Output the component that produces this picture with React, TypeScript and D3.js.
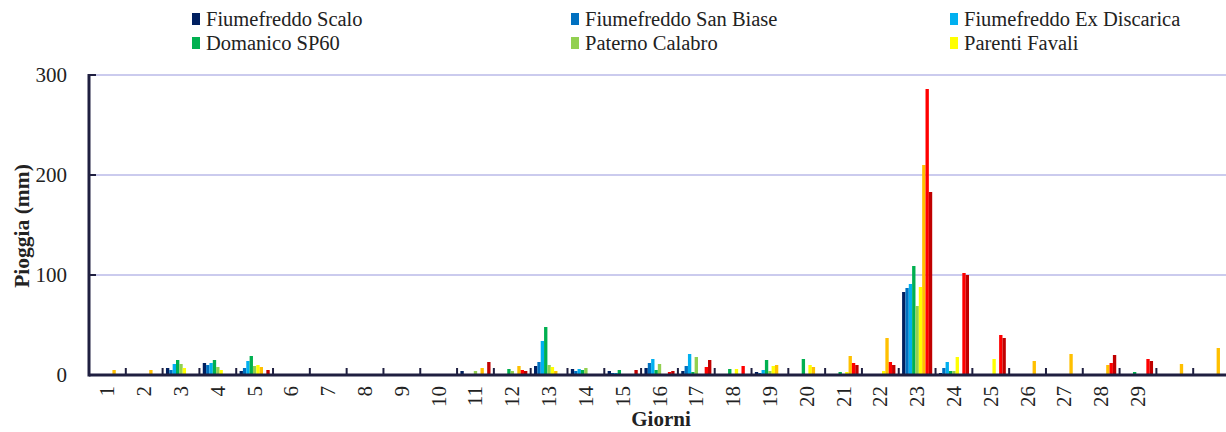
import { useEffect, useRef } from "react";
import * as d3 from "d3";

// giorni del mese (31), etichette mostrate solo fino al 29
const days = [
  "1", "2", "3", "4", "5", "6", "7", "8", "9", "10", "11", "12", "13", "14", "15", "16",
  "17", "18", "19", "20", "21", "22", "23", "24", "25", "26", "27", "28", "29", "30", "31",
];
const dayLabels = [
  "1", "2", "3", "4", "5", "6", "7", "8", "9", "10", "11", "12", "13", "14", "15", "16",
  "17", "18", "19", "20", "21", "22", "23", "24", "25", "26", "27", "28", "29", "", "",
];

const seriesNames = [
  "Fiumefreddo Scalo",
  "Fiumefreddo San Biase",
  "Fiumefreddo Ex Discarica",
  "Domanico SP60",
  "Paterno Calabro",
  "Parenti Favali",
  "Serie 7",
  "Serie 8",
  "Serie 9",
];
const seriesColors = [
  "#002060", "#0070C0", "#00B0F0", "#00B050", "#92D050", "#FFFF00", "#FFC000", "#FF0000", "#C00000",
];

// pioggia giornaliera (mm)
const fiumefreddoScalo = [0, 0, 7, 12, 4, 0, 0, 0, 0, 0, 4, 0, 9, 6, 4, 7, 4, 0, 3, 0, 0, 0, 83, 2, 0, 0, 0, 0, 0, 0, 0];
const fiumefreddoSanBiase = [0, 0, 5, 10, 7, 0, 0, 0, 0, 0, 0, 0, 13, 4, 2, 12, 9, 1, 2, 0, 0, 0, 87, 7, 0, 0, 0, 0, 0, 0, 0];
const fiumefreddoExDiscarica = [0, 0, 11, 12, 14, 0, 0, 0, 0, 0, 0, 0, 34, 6, 2, 16, 21, 0, 5, 0, 0, 0, 91, 13, 0, 0, 0, 0, 0, 0, 0];
const domanicoSP60 = [0, 0, 15, 15, 19, 0, 0, 0, 0, 0, 1, 6, 48, 5, 5, 5, 3, 6, 15, 16, 3, 0, 109, 4, 0, 0, 0, 0, 3, 0, 0];
const paternoCalabro = [0, 0, 11, 8, 9, 0, 0, 0, 0, 0, 4, 4, 10, 7, 0, 11, 18, 0, 4, 0, 0, 0, 69, 4, 0, 0, 0, 0, 1, 0, 0];
const parentiFavali = [0, 0, 7, 5, 10, 0, 0, 0, 0, 0, 1, 0, 8, 0, 0, 0, 0, 6, 9, 10, 3, 4, 88, 18, 16, 0, 0, 0, 1, 0, 0];
const serie7 = [5, 5, 0, 1, 8, 0, 0, 0, 0, 0, 7, 9, 4, 1, 0, 0, 1, 0, 10, 8, 19, 37, 210, 0, 0, 14, 21, 10, 1, 11, 27];
const serie8 = [0, 0, 0, 0, 0, 0, 0, 0, 0, 0, 0, 5, 0, 0, 0, 3, 8, 9, 0, 0, 12, 13, 286, 102, 40, 0, 0, 12, 16, 0, 0];
const serie9 = [0, 0, 0, 0, 5, 0, 0, 0, 0, 0, 13, 4, 0, 0, 5, 4, 15, 0, 0, 0, 10, 10, 183, 100, 37, 0, 0, 20, 14, 0, 0];

const seriesValues = [
  fiumefreddoScalo,
  fiumefreddoSanBiase,
  fiumefreddoExDiscarica,
  domanicoSP60,
  paternoCalabro,
  parentiFavali,
  serie7,
  serie8,
  serie9,
];

const yTicks = [0, 100, 200, 300];
const legendCount = 6; // la legenda originale mostra solo le prime sei serie

export default function App() {
  const svgRef = useRef<SVGSVGElement>(null);

  useEffect(() => {
    if (!svgRef.current) return;
    const W = 1226;
    const H = 432;
    const axisColor = "#1f1f40";
    const font = "'Liberation Serif', 'Times New Roman', serif";

    const svg = d3.select(svgRef.current);
    svg.selectAll("*").remove();
    svg.attr("width", W).attr("height", H).attr("viewBox", `0 0 ${W} ${H}`);

    const left = 89;
    const right = 1230; // l'ultima categoria esce dal bordo
    const top = 75;
    const bottom = 375;

    const x = d3.scaleBand<string>().domain(days).range([left, right]).padding(0);
    const xInner = d3
      .scaleBand<string>()
      .domain(seriesNames)
      .range([0, x.bandwidth()])
      .paddingInner(0)
      .paddingOuter(1);
    const y = d3.scaleLinear().domain([0, 300]).range([bottom, top]);

    // griglia orizzontale
    svg
      .append("g")
      .selectAll("line")
      .data(yTicks.filter((t) => t > 0))
      .enter()
      .append("line")
      .attr("x1", left)
      .attr("x2", W)
      .attr("y1", (d) => y(d))
      .attr("y2", (d) => y(d))
      .attr("stroke", "#cbcbee")
      .attr("stroke-width", 2);

    // barre
    seriesValues.forEach((vals, si) => {
      svg
        .append("g")
        .selectAll("rect")
        .data(vals.map((v, i) => ({ day: days[i], v })).filter((d) => d.v > 0))
        .enter()
        .append("rect")
        .attr("x", (d) => (x(d.day) as number) + (xInner(seriesNames[si]) as number))
        .attr("width", xInner.bandwidth())
        .attr("y", (d) => y(d.v))
        .attr("height", (d) => y(0) - y(d.v))
        .attr("fill", seriesColors[si]);
    });

    // asse x: linea e tacche interne ai confini delle categorie
    const axes = svg.append("g");
    axes
      .selectAll(".xtick")
      .data(days.slice(1))
      .enter()
      .append("line")
      .attr("x1", (d) => x(d) as number)
      .attr("x2", (d) => x(d) as number)
      .attr("y1", bottom)
      .attr("y2", bottom - 7)
      .attr("stroke", axisColor)
      .attr("stroke-width", 2);
    axes
      .append("line")
      .attr("x1", left)
      .attr("x2", W)
      .attr("y1", bottom)
      .attr("y2", bottom)
      .attr("stroke", axisColor)
      .attr("stroke-width", 3);

    // asse y
    axes
      .selectAll(".ytick")
      .data(yTicks.filter((t) => t > 0))
      .enter()
      .append("line")
      .attr("x1", left)
      .attr("x2", left + 7)
      .attr("y1", (d) => y(d))
      .attr("y2", (d) => y(d))
      .attr("stroke", axisColor)
      .attr("stroke-width", 2);
    axes
      .append("line")
      .attr("x1", left)
      .attr("x2", left)
      .attr("y1", top - 1)
      .attr("y2", bottom + 1.5)
      .attr("stroke", axisColor)
      .attr("stroke-width", 3);

    svg
      .append("g")
      .selectAll("text")
      .data(yTicks)
      .enter()
      .append("text")
      .attr("x", 67)
      .attr("y", (d) => y(d))
      .attr("dy", "0.34em")
      .attr("text-anchor", "end")
      .attr("font-family", font)
      .attr("font-size", 21)
      .attr("fill", "#222")
      .text((d) => d);

    // etichette giorni ruotate
    svg
      .append("g")
      .selectAll("text")
      .data(days)
      .enter()
      .append("text")
      .attr(
        "transform",
        (d) => `translate(${(x(d) as number) + x.bandwidth() / 2 + 7},386) rotate(-90)`,
      )
      .attr("text-anchor", "end")
      .attr("font-family", font)
      .attr("font-size", 21)
      .attr("fill", "#222")
      .text((_d, i) => dayLabels[i]);

    // titoli assi
    svg
      .append("text")
      .attr("transform", "translate(29,226) rotate(-90)")
      .attr("text-anchor", "middle")
      .attr("font-family", font)
      .attr("font-weight", "bold")
      .attr("font-size", 21.5)
      .attr("fill", "#222")
      .text("Pioggia (mm)");
    svg
      .append("text")
      .attr("x", 661)
      .attr("y", 426)
      .attr("text-anchor", "middle")
      .attr("font-family", font)
      .attr("font-weight", "bold")
      .attr("font-size", 21)
      .attr("fill", "#222")
      .text("Giorni");

    // legenda (3 colonne x 2 righe)
    const colX = [192, 571, 950];
    const rowY = [19, 43];
    const legend = svg.append("g");
    seriesNames.slice(0, legendCount).forEach((name, i) => {
      const lx = colX[i % 3];
      const ly = rowY[Math.floor(i / 3)];
      const g = legend.append("g").attr("transform", `translate(${lx},${ly})`);
      g.append("rect")
        .attr("x", 0)
        .attr("y", -6)
        .attr("width", 8)
        .attr("height", 12)
        .attr("fill", seriesColors[i]);
      g.append("text")
        .attr("x", 14)
        .attr("y", 0)
        .attr("dy", "0.34em")
        .attr("font-family", font)
        .attr("font-size", 20.5)
        .attr("fill", "#222")
        .text(name);
    });
  }, []);

  return (
    <div style={{ position: "absolute", left: 0, top: 0, width: 1226, height: 432, background: "#fff" }}>
      <svg ref={svgRef} style={{ display: "block" }} />
    </div>
  );
}
